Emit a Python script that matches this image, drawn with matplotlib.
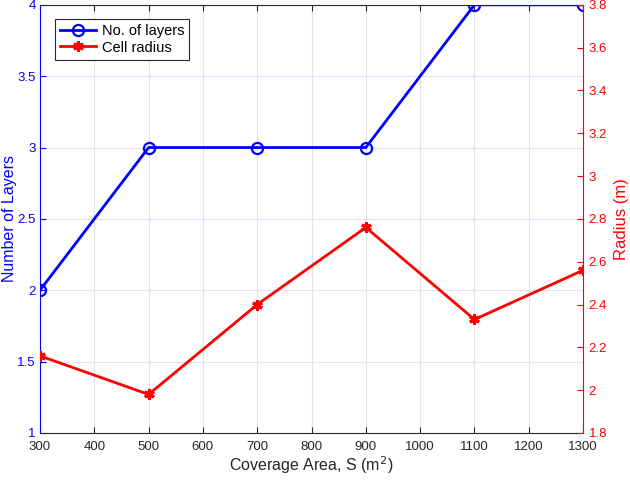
import matplotlib.pyplot as plt
from matplotlib.lines import Line2D

plt.rcParams['font.family'] = ['Liberation Sans', 'DejaVu Sans']

# data
area = [300, 500, 700, 900, 1100, 1300]
layers = [2, 3, 3, 3, 4, 4]
radius = [2.16, 1.98, 2.40, 2.76, 2.33, 2.56]

fig = plt.figure(figsize=(6.3, 4.8), dpi=100)
ax = fig.add_axes([0.0635, 0.098, 0.8620, 0.892])
ax2 = ax.twinx()

ax.plot(area, layers, color='#0000ff', lw=2, marker='o', ms=8,
        mfc='none', mew=1.6, label='No. of layers', zorder=3)
ax2.plot(area, radius, color='#ff0000', lw=2, marker=(6, 2, 0), ms=7.5,
         mew=2.2, label='Cell radius', zorder=3)

ax.set_xlim(300, 1300)
ax.set_ylim(1, 4)
ax2.set_ylim(1.8, 3.8)
ax.set_xticks(range(300, 1301, 100))
ax.set_yticks([1, 1.5, 2, 2.5, 3, 3.5, 4])
ax.set_yticklabels(['1', '1.5', '2', '2.5', '3', '3.5', '4'])
ax2.set_yticks([1.8 + 0.2 * i for i in range(11)])
ax2.set_yticklabels(['1.8', '2', '2.2', '2.4', '2.6', '2.8', '3', '3.2', '3.4', '3.6', '3.8'])

# grid: vertical gray, horizontal bluish
for x in range(400, 1300, 100):
    ax.axvline(x, color='#e3e3e3', lw=0.8, zorder=0)
for y in [1.5, 2, 2.5, 3, 3.5]:
    ax.axhline(y, color='#e0e0fa', lw=0.8, zorder=0)

ax.set_xlabel('Coverage Area, S (m$^2$)', fontsize=11.5, color='#262626', labelpad=1)
ax.set_ylabel('Number of Layers', fontsize=11.5, color='#0000ff', labelpad=0)
ax2.set_ylabel('Radius (m)', fontsize=12, color='#ff0000', labelpad=5)

ax.tick_params(axis='x', colors='#262626', labelsize=9.5, direction='in', length=4,
               top=True, pad=5.5)
ax.tick_params(axis='y', colors='#0000ff', labelsize=9.5, direction='in', length=4, pad=3)
ax2.tick_params(axis='y', colors='#ff0000', labelsize=9.5, direction='in', length=4, pad=4)

for s in ['top', 'bottom']:
    ax.spines[s].set_color('#262626')
    ax2.spines[s].set_visible(False)
ax.spines['left'].set_color('#0000ff')
ax2.spines['right'].set_color('#ff0000')
ax2.spines['left'].set_visible(False)
ax.spines['right'].set_visible(False)
for a in (ax, ax2):
    for s in a.spines.values():
        s.set_linewidth(0.8)

handles = [
    Line2D([], [], color='#0000ff', lw=2, marker='o', ms=8, mfc='none', mew=1.6),
    Line2D([], [], color='#ff0000', lw=2, marker=(6, 2, 0), ms=7.5, mew=2.2),
]
leg = ax2.legend(handles, ['No. of layers', 'Cell radius'], loc='upper left',
                 bbox_to_anchor=(0.022, 0.973), fontsize=10.5, fancybox=False,
                 framealpha=1, edgecolor='#262626', handlelength=2.5,
                 borderpad=0.35, labelspacing=0.15, handletextpad=0.35,
                 borderaxespad=0.2)
leg.get_frame().set_linewidth(0.8)

fig.savefig('out.png', dpi=100)
